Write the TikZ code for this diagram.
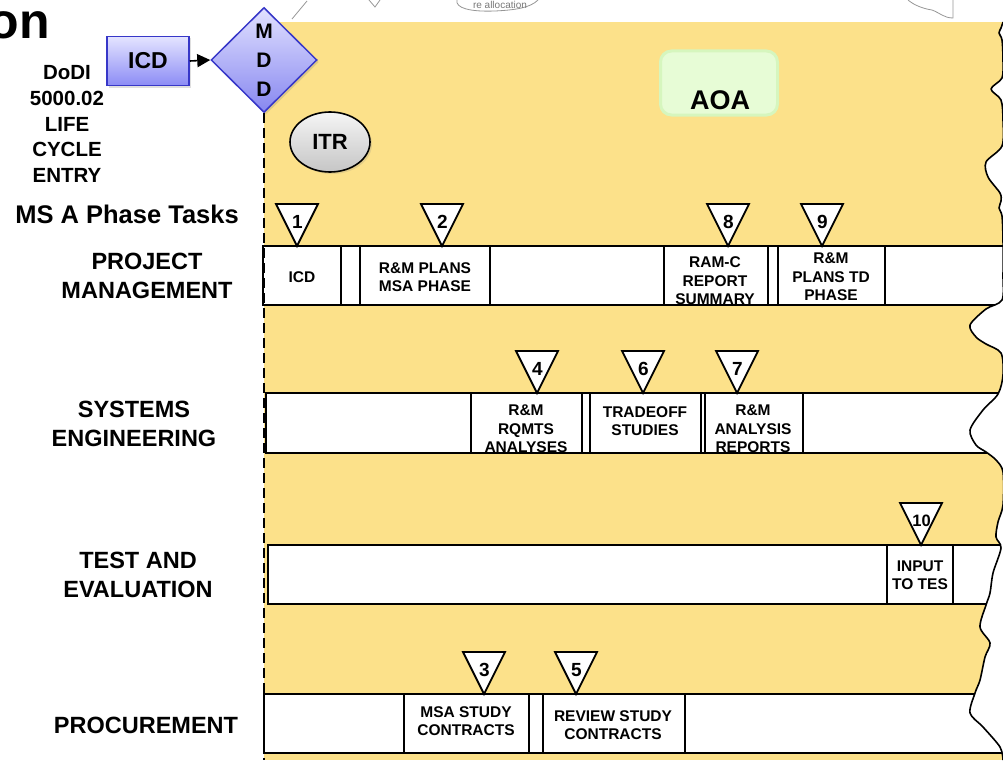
\documentclass[tikz,border=0pt]{standalone}
\usepackage{fontspec}
\setmainfont{Liberation Sans}
\usetikzlibrary{shapes.geometric,shadows,arrows.meta}
\definecolor{bgyellow}{RGB}{252,225,138}
\definecolor{icdtop}{RGB}{228,228,255}
\definecolor{icdbot}{RGB}{140,140,245}
\definecolor{icdline}{RGB}{55,55,200}
\definecolor{mddtop}{RGB}{225,225,255}
\definecolor{mddbot}{RGB}{135,135,240}
\definecolor{aoafill}{RGB}{231,252,214}
\definecolor{aoaline}{RGB}{214,246,190}
\definecolor{sketch}{RGB}{150,150,150}
\newcommand\mstri[5][]{%
  \draw[tri] (#3-21,#4) -- (#3+21,#4) -- (#3,#4+42) -- cycle;
  \node[trinum,#1] (#2) at (#3+0.5,#4+18) {#5};}
\begin{document}
\begin{tikzpicture}[x=1pt,y=-1pt,
  lab/.style={font=\fontsize{23.5}{29}\selectfont\bfseries, align=center, inner sep=0},
  celltxt/.style={font=\fontsize{15.5}{18.5}\selectfont\bfseries, align=center, inner sep=0},
  rowbox/.style={fill=white, draw=black, line width=2.5pt},
  divider/.style={draw=black, line width=2pt},
  tri/.style={fill=white, draw=black, line width=1.8pt, line join=miter},
  trinum/.style={font=\fontsize{19}{19}\selectfont\bfseries, inner sep=0},
  smallnum/.style={font=\fontsize{16.5}{16.5}\selectfont\bfseries},
  torn/.style={insert path={-- plot[smooth, tension=0.5] coordinates {
    (1003,22) (1001,28) (999,33) (1002,40) (1003,60) (1002,78) (991,89) (1001,100)
    (1003,120) (1002,146) (986,162) (988,177) (1000,193) (1001,201) (999,208)
    (1002,216) (1003,240) (1003,275) (1002,300) (986,309) (970,325) (976,337)
    (986,344) (1001,353) (1003,375) (998,394) (983,410) (970,430) (976,445)
    (986,452) (996,460) (1003,472) (1003,505) (998,522) (996,537) (1001,548)
    (993,573) (990,593) (986,605) (980,627) (990,643) (985,657) (980,680)
    (975,693) (970,713) (983,727) (1000,747) (1003,760)}}},
]
\useasboundingbox (0,0) rectangle (1003,760);

% faint sketch at the top (cropped picture)
\draw[sketch, line width=0.8pt] (292,19) -- (307,1);
\draw[sketch, line width=0.8pt] (369,0) -- (375,7) -- (380,0);
\draw[sketch, line width=0.8pt] (457,0) .. controls (455,8) and (470,12) .. (495,11) .. controls (515,10) and (530,8) .. (538,0);
\draw[sketch, line width=0.8pt] (908,0) .. controls (915,6) and (925,9) .. (932,10) .. controls (940,13) and (944,18) .. (953,18) -- (953,0);
\node[font=\fontsize{10}{10}\selectfont, text=sketch!80!black, inner sep=0] (sk) at (500,5) {re allocation};

% yellow phase area with rows, clipped to the torn edge
\begin{scope}
  \clip (250,760) -- (250,22) -- (1003,22) [torn] -- cycle;
  \fill[bgyellow] (264,22) rectangle (1010,760);
  \filldraw[rowbox] (263,246) rectangle (1020,305);
  \filldraw[rowbox] (266,393) rectangle (1020,453);
  \filldraw[rowbox] (268,545) rectangle (1020,604);
  \filldraw[rowbox] (264,694) rectangle (1020,753);
  \foreach \xx in {341,360,490,664,768,778,885} \draw[divider] (\xx,246) -- (\xx,305);
  \foreach \xx in {471,582,590,701,705,803} \draw[divider] (\xx,393) -- (\xx,453);
  \foreach \xx in {887,953} \draw[divider] (\xx,545) -- (\xx,604);
  \foreach \xx in {404,529,543,685} \draw[divider] (\xx,694) -- (\xx,753);
\end{scope}
\draw[line width=1.6pt, line join=round] (1003,22) [torn];

% title fragment and left texts
\node[font=\fontsize{50}{50}\selectfont\bfseries, anchor=east, inner sep=0] (title) at (50,25) {on};
\node[font=\fontsize{20.5}{25.8}\selectfont\bfseries, align=center, inner sep=0] (dodi) at (67,124) {DoDI\\5000.02\\LIFE\\CYCLE\\ENTRY};
\node[font=\fontsize{25.5}{26}\selectfont\bfseries, inner sep=0] (mstasks) at (127,214) {MS A Phase Tasks};

\node[lab] (pm) at (147,276) {PROJECT\\MANAGEMENT};
\node[lab] (se) at (134,424) {SYSTEMS\\ENGINEERING};
\node[lab] (te) at (138,575) {TEST AND\\EVALUATION};
\node[lab] (pr) at (146,725) {PROCUREMENT};

% ICD and MDD
\node[draw=icdline, line width=1.5pt, top color=icdtop, bottom color=icdbot,
      minimum width=82pt, minimum height=49pt, inner sep=0,
      font=\fontsize{23}{23}\selectfont\bfseries,
      drop shadow={opacity=0.25, shadow xshift=2pt, shadow yshift=-2pt}] (icd) at (148,61) {ICD};
\node[diamond, aspect=1, draw=icdline, line width=1.5pt, top color=mddtop, bottom color=mddbot,
      minimum width=106pt, minimum height=105pt, inner sep=0, align=center,
      font=\fontsize{21}{29}\selectfont\bfseries,
      drop shadow={opacity=0.25, shadow xshift=2pt, shadow yshift=-2pt}] (mdd) at (264,60) {M\\D\\D};
\draw[line width=1.6pt, -{Triangle[length=13pt,width=13pt]}] (icd.east) -- (mdd.west);
\coordinate (dashend) at (264,760);
\draw[line width=2pt, dash pattern=on 10pt off 5pt] (mdd.south) -- (dashend);

% ITR and AOA
\node[ellipse, draw=black, line width=1.6pt, top color=gray!8, bottom color=gray!45,
      minimum width=80pt, minimum height=60pt, inner sep=0,
      font=\fontsize{22}{22}\selectfont\bfseries,
      drop shadow={opacity=0.2, shadow xshift=2pt, shadow yshift=-2pt}] (itr) at (330,142) {ITR};
\node[draw=aoaline, fill=aoafill, line width=3pt, rounded corners=11pt,
      minimum width=117pt, minimum height=64pt, inner sep=0] (aoa) at (719,83) {};
\node[font=\fontsize{27}{27}\selectfont\bfseries, inner sep=0] (aoatxt) at (720,100) {AOA};

% milestone triangles
\mstri{t1}{297}{204}{1}
\mstri{t2}{442}{204}{2}
\mstri{t8}{728}{204}{8}
\mstri{t9}{822}{204}{9}
\mstri{t4}{537}{351}{4}
\mstri{t6}{643}{351}{6}
\mstri{t7}{737}{351}{7}
\mstri[smallnum]{t10}{921}{503}{10}
\mstri{t3}{484}{652}{3}
\mstri{t5}{576}{652}{5}

% cell texts
\node[celltxt] (c1a) at (302,277) {ICD};
\node[celltxt] (c1b) at (425,277) {R\&M PLANS\\MSA PHASE};
\node[celltxt] (c1c) at (715,281) {RAM-C\\REPORT\\SUMMARY};
\node[celltxt] (c1d) at (831,277) {R\&M\\PLANS TD\\PHASE};
\node[celltxt] (c2a) at (526,429) {R\&M\\RQMTS\\ANALYSES};
\node[celltxt] (c2b) at (645,421) {TRADEOFF\\STUDIES};
\node[celltxt] (c2c) at (753,429) {R\&M\\ANALYSIS\\REPORTS};
\node[celltxt] (c3a) at (920,575) {INPUT\\TO TES};
\node[celltxt] (c4a) at (466,721) {MSA STUDY\\CONTRACTS};
\node[celltxt] (c4b) at (613,725) {REVIEW STUDY\\CONTRACTS};
\end{tikzpicture}
\end{document}
